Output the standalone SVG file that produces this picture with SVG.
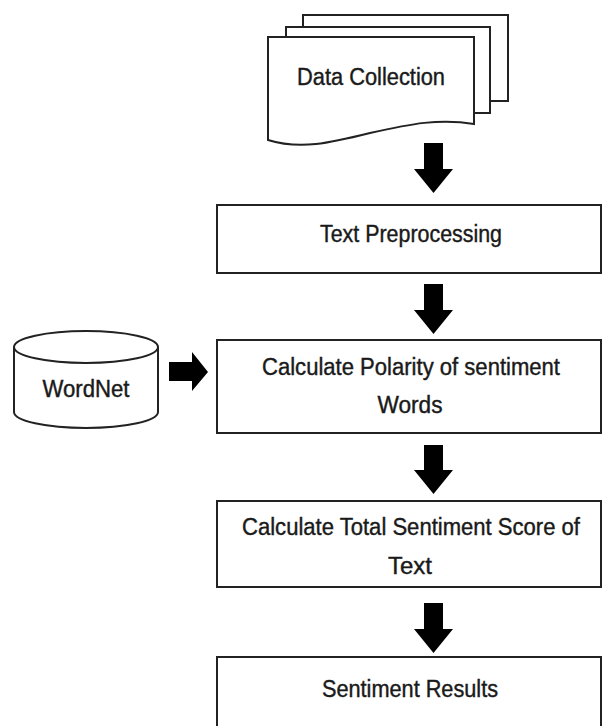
<svg xmlns="http://www.w3.org/2000/svg" width="602" height="726" viewBox="0 0 602 726">
<style>
.box{fill:#fff;stroke:#222;stroke-width:2}
.t{font-family:"Liberation Sans",Arial,sans-serif;font-size:23px;fill:#1a1a1a;stroke:#1a1a1a;stroke-width:0.4;text-anchor:middle}
.arr{fill:#000}
</style>
<rect width="602" height="726" fill="#fff"/>
<g id="data-collection">
<path class="box" d="M303,15 H508 V101 H490 V27 H303 Z"/>
<path class="box" d="M286,27 H490 V113 H474 V37 H286 Z"/>
<path class="box" d="M268,37 H474 V124 C440,118 410,124 370,133 C330,143 300,150 268,140 Z"/>
<text class="t" x="371" y="85" textLength="148" lengthAdjust="spacingAndGlyphs">Data Collection</text>
</g>
<g id="text-preprocessing">
<rect class="box" x="217" y="205" width="384" height="68"/>
<text class="t" x="411" y="242" textLength="182" lengthAdjust="spacingAndGlyphs">Text Preprocessing</text>
</g>
<g id="wordnet">
<path class="box" d="M14,347 V412 A72,16 0 0 0 158,412 V347"/>
<ellipse class="box" cx="86" cy="347" rx="72" ry="16"/>
<text class="t" x="86" y="397" textLength="87" lengthAdjust="spacingAndGlyphs">WordNet</text>
</g>
<g id="calculate-polarity">
<rect class="box" x="217" y="340" width="384" height="93"/>
<text class="t" x="411" y="375" textLength="298" lengthAdjust="spacingAndGlyphs">Calculate Polarity of sentiment</text>
<text class="t" x="410" y="413" textLength="65" lengthAdjust="spacingAndGlyphs">Words</text>
</g>
<g id="calculate-total">
<rect class="box" x="217" y="501" width="384" height="86"/>
<text class="t" x="411" y="535" textLength="338" lengthAdjust="spacingAndGlyphs">Calculate Total Sentiment Score of</text>
<text class="t" x="410" y="574" textLength="44" lengthAdjust="spacingAndGlyphs">Text</text>
</g>
<g id="sentiment-results">
<rect class="box" x="217" y="657" width="384" height="80"/>
<text class="t" x="410" y="697" textLength="176" lengthAdjust="spacingAndGlyphs">Sentiment Results</text>
</g>
<g id="connectors">
<polygon class="arr" points="424,143 443,143 443,169 453,169 433.5,193 414,169 424,169"/>
<polygon class="arr" points="424,284 443,284 443,310 453,310 433.5,334 414,310 424,310"/>
<polygon class="arr" points="424,445 443,445 443,470 453,470 433.5,494 414,470 424,470"/>
<polygon class="arr" points="424,603 443,603 443,629 453,629 433.5,653 414,629 424,629"/>
<polygon class="arr" points="169,362 192,362 192,352 208,372 192,391 192,381 169,381"/>
</g>
</svg>
